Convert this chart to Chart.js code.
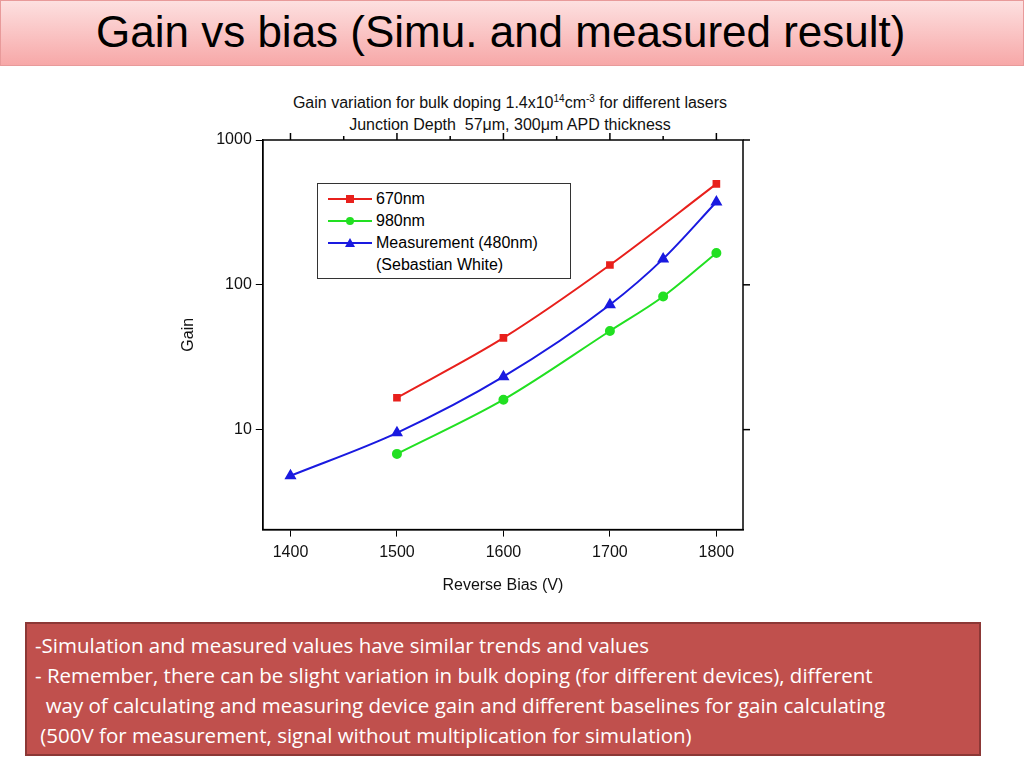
<!DOCTYPE html>
<html><head><meta charset="utf-8">
<script src="https://cdn.jsdelivr.net/npm/chart.js@4/dist/chart.umd.min.js"></script>
<style>
body{margin:0;width:1024px;height:768px;background:#fff;position:relative;font-family:Arial,"Liberation Sans",sans-serif;overflow:hidden}
#banner{position:absolute;left:0;top:0;width:1022px;height:64px;border:1px solid #e89a9a;background:linear-gradient(#fde0e0,#f7a8a8);}
#banner div{position:absolute;left:95px;top:6px;font-size:44px;color:#000}
#ctitle{position:absolute;left:200px;top:92px;width:620px;text-align:center;font-size:16px;line-height:22px;color:#111}
#ctitle sup{font-size:10px;line-height:0;vertical-align:6px}
#chartBox{position:absolute;left:175px;top:85px;width:585px;height:520px}
#legend{position:absolute;left:317px;top:183px;width:252px;height:94px;border:1px solid #333;background:#fff;font-size:16px;line-height:22px}
#legend .r{position:relative;padding-left:58px;height:22px}
#legend svg{position:absolute;left:10px;top:6px}
#note{position:absolute;left:25px;top:622px;width:956px;height:134px;background:#c0504d;border:2px solid #8c3836;box-sizing:border-box;color:#fff;font-family:"Open Sans",sans-serif;font-size:20.5px;line-height:30px;padding:6px 0 0 8px;white-space:nowrap}
</style></head><body>
<div id="banner"><div>Gain vs bias (Simu. and measured result)</div></div>
<div id="ctitle">Gain variation for bulk doping 1.4x10<sup>14</sup>cm<sup>-3</sup> for different lasers<br>Junction Depth &nbsp;57μm, 300μm APD thickness</div>
<div id="chartBox"><canvas id="c"></canvas></div>
<div id="legend">
<div class="r" style="margin-top:4px"><svg width="44" height="10"><line x1="0" y1="5" x2="44" y2="5" stroke="#e8201c" stroke-width="2"/><rect x="18" y="1" width="8" height="8" fill="#e8201c"/></svg>670nm</div>
<div class="r"><svg width="44" height="10"><line x1="0" y1="5" x2="44" y2="5" stroke="#22e022" stroke-width="2"/><circle cx="22" cy="5" r="4" fill="#22e022"/></svg>980nm</div>
<div class="r"><svg width="44" height="10"><line x1="0" y1="5" x2="44" y2="5" stroke="#1a1ae0" stroke-width="2"/><polygon points="22,0 27,9 17,9" fill="#1a1ae0"/></svg>Measurement (480nm)</div>
<div class="r">(Sebastian White)</div>
</div>
<div id="note">-Simulation and measured values have similar trends and values<br>- Remember, there can be slight variation in bulk doping (for different devices), different<br>&nbsp; way of calculating and measuring device gain and different baselines for gain calculating<br>&nbsp;(500V for measurement, signal without multiplication for simulation)</div>
<script>
// data
const bias670 = [1500, 1600, 1700, 1800];
const gain670 = [16.6, 43, 137, 498];
const bias980 = [1500, 1600, 1700, 1750, 1800];
const gain980 = [6.8, 16.1, 48, 83, 166];
const biasMeas = [1400, 1500, 1600, 1700, 1750, 1800];
const gainMeas = [4.8, 9.5, 23.2, 72.8, 151, 373];
const xTicks = [1400, 1500, 1600, 1700, 1800];
const yTicks = [10, 100, 1000];

const pts = (xs, ys) => xs.map((x, i) => ({ x: x, y: ys[i] }));

const frame = {
    id: 'frame',
    afterDraw(chart) {
        const a = chart.chartArea, ctx = chart.ctx;
        ctx.save();
        ctx.strokeStyle = '#000'; ctx.lineWidth = 1.5;
        ctx.strokeRect(a.left, a.top, a.right - a.left, a.bottom - a.top);
        // mirrored ticks on top and right
        const xs = chart.scales.x, ys = chart.scales.y;
        for (let v = 1400; v <= 1800; v += 50) {
            const p = xs.getPixelForValue(v), l = v % 100 ? 4 : 7;
            ctx.beginPath(); ctx.moveTo(p, a.top); ctx.lineTo(p, a.top - l); ctx.stroke();
        }
        [10, 100, 1000].forEach(v => {
            const p = ys.getPixelForValue(v);
            ctx.beginPath(); ctx.moveTo(a.right, p); ctx.lineTo(a.right + 7, p); ctx.stroke();
        });
        ctx.restore();
    }
};

const mk = (label, data, color, shape, r) => ({
    label, data, borderColor: color, backgroundColor: color, borderWidth: 2,
    pointStyle: shape, pointRadius: r, tension: 0.35, cubicInterpolationMode: 'monotone'
});

new Chart(document.getElementById('c'), {
    type: 'line',
    data: {
        datasets: [
            mk('670nm', pts(bias670, gain670), '#e8201c', 'rect', 4),
            mk('980nm', pts(bias980, gain980), '#22e022', 'circle', 4),
            mk('Measurement (480nm)', pts(biasMeas, gainMeas), '#1a1ae0', 'triangle', 5)
        ]
    },
    options: {
        responsive: true, maintainAspectRatio: false, animation: false,
        layout: { padding: { top: 55, right: 17, left: 0, bottom: 6 } },
        plugins: { legend: { display: false }, tooltip: { enabled: false } },
        scales: {
            x: {
                type: 'linear', min: 1374, max: 1825,
                afterBuildTicks: s => { s.ticks = xTicks.map(v => ({ value: v })); },
                ticks: { color: '#111', font: { size: 16 }, padding: 6, callback: v => String(v) },
                grid: { drawOnChartArea: false, color: '#000', tickLength: 7 },
                border: { color: '#000', width: 1.5 },
                title: { display: true, text: 'Reverse Bias (V)', color: '#111', font: { size: 16 }, padding: { top: 8 } }
            },
            y: {
                type: 'logarithmic', min: 2.04, max: 1000,
                afterBuildTicks: s => { s.ticks = yTicks.map(v => ({ value: v })); },
                ticks: { color: '#111', font: { size: 16 }, padding: 4, callback: v => String(v) },
                grid: { drawOnChartArea: false, color: '#000', tickLength: 7 },
                border: { color: '#000', width: 1.5 },
                title: { display: true, text: 'Gain', color: '#111', font: { size: 16 }, padding: { bottom: 14 } }
            }
        }
    },
    plugins: [frame]
});
</script>
</body></html>
